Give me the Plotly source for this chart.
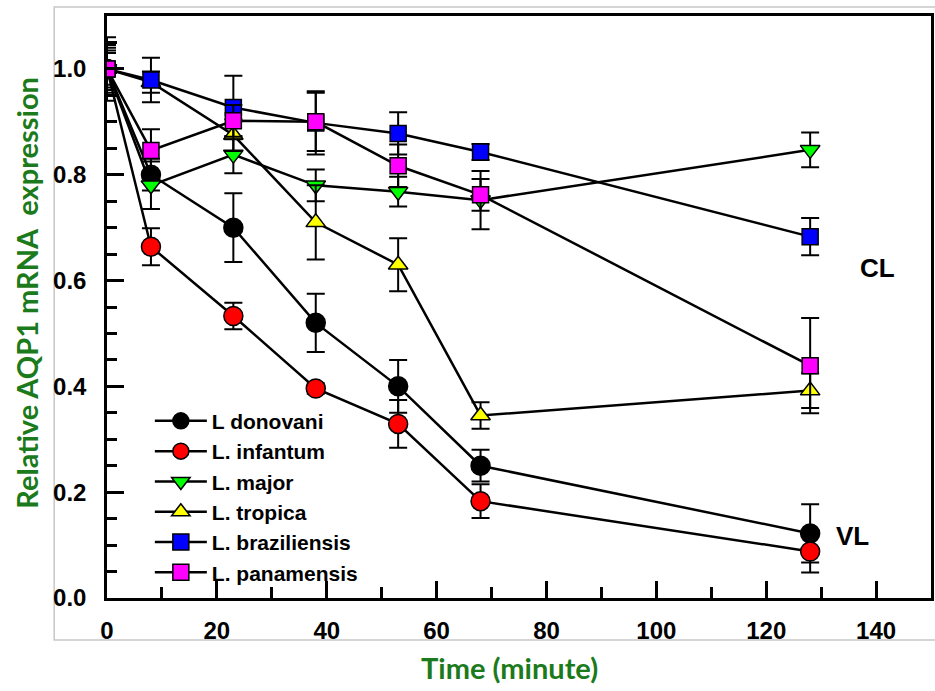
import plotly.graph_objects as go

time_min = [0, 8, 23, 38, 53, 68, 128]

names = ["L donovani", "L. infantum", "L. major", "L. tropica", "L. braziliensis", "L. panamensis"]

donovani = [1.0, 0.80, 0.70, 0.52, 0.40, 0.25, 0.122]
donovani_err = [0.05, 0.03, 0.065, 0.055, 0.05, 0.03, 0.055]
infantum = [1.0, 0.664, 0.533, 0.396, 0.329, 0.183, 0.088]
infantum_err = [0.04, 0.035, 0.025, 0.01, 0.045, 0.032, 0.04]
major = [1.0, 0.78, 0.838, 0.78, 0.768, 0.752, 0.847]
major_err = [0.06, 0.045, 0.035, 0.03, 0.028, 0.055, 0.033]
tropica = [1.0, 0.975, 0.875, 0.71, 0.63, 0.345, 0.392]
tropica_err = [0.03, 0.02, 0.03, 0.07, 0.05, 0.025, 0.033]
braziliensis = [1.0, 0.979, 0.927, 0.898, 0.878, 0.843, 0.683]
braziliensis_err = [0.045, 0.042, 0.06, 0.06, 0.04, 0.015, 0.035]
panamensis = [1.0, 0.846, 0.902, 0.900, 0.817, 0.762, 0.439]
panamensis_err = [0.035, 0.04, 0.03, 0.055, 0.04, 0.03, 0.09]

x_ticks = [0, 20, 40, 60, 80, 100, 120, 140]
y_ticks = [0.0, 0.2, 0.4, 0.6, 0.8, 1.0]

series = [
    (donovani, donovani_err, "circle", "#000000", 19),
    (infantum, infantum_err, "circle", "#ff0000", 19),
    (major, major_err, "triangle-down", "#00ff00", 17),
    (tropica, tropica_err, "triangle-up", "#ffff00", 17),
    (braziliensis, braziliensis_err, "square", "#0000ff", 16),
    (panamensis, panamensis_err, "square", "#ff00ff", 16),
]

fig = go.Figure()
for name, (vals, errs, sym, col, sz) in zip(names, series):
    fig.add_trace(go.Scatter(
        x=time_min, y=vals, name=name, mode="lines+markers",
        line=dict(color="black", width=2.5),
        marker=dict(symbol=sym, color=col, size=sz, line=dict(color="black", width=1.5)),
        error_y=dict(type="data", array=errs, visible=True, color="black", thickness=2, width=9),
    ))

green = "#1b7a1b"
ARIAL = "Liberation Sans, Arial"
axis_font = dict(family=ARIAL, size=24, color="black", weight="bold")

fig.update_layout(
    width=935, height=691,
    margin=dict(l=107, r=1, t=16, b=93),
    paper_bgcolor="white", plot_bgcolor="white",
    showlegend=True,
    legend=dict(x=0.052, y=0.339, xanchor="left", yanchor="top", itemwidth=52,
                font=dict(family=ARIAL, size=21, color="black", weight="bold"),
                bgcolor="rgba(0,0,0,0)", borderwidth=0, tracegroupgap=0),
    xaxis=dict(range=[0, 150], tickvals=x_ticks, ticks="inside", ticklen=17, tickwidth=2.5,
               tickcolor="black", showline=True, linecolor="black", linewidth=2.5, mirror=True,
               showgrid=False, zeroline=False, tickfont=axis_font, ticklabelstandoff=9,
               minor=dict(dtick=10, ticks="inside", ticklen=11, tickwidth=2.5, tickcolor="black", showgrid=False)),
    yaxis=dict(range=[0, 1.1], tickvals=y_ticks, tickformat=".1f", ticks="inside", ticklen=17, tickwidth=2.5,
               tickcolor="black", showline=True, linecolor="black", linewidth=2.5, mirror=True,
               showgrid=False, zeroline=False, tickfont=axis_font, ticklabelstandoff=13,
               minor=dict(dtick=0.05, ticks="inside", ticklen=10, tickwidth=2.5, tickcolor="black", showgrid=False)),
    shapes=[dict(type="rect", xref="paper", yref="paper", x0=-0.0641, x1=1.05, y0=-0.0722, y1=1.0155,
                 line=dict(color="#c8c8c8", width=1.5), fillcolor="rgba(0,0,0,0)", layer="below")],
    annotations=[
        dict(text="CL", x=140.3, y=0.624, xref="x", yref="y", showarrow=False,
             font=dict(family=ARIAL, size=26, color="black", weight="bold")),
        dict(text="VL", x=135.8, y=0.118, xref="x", yref="y", showarrow=False,
             font=dict(family=ARIAL, size=26, color="black", weight="bold")),
        dict(text="Relative AQP1 mRNA  expression", x=-0.098, y=0.525, xref="paper", yref="paper",
             xanchor="center", yanchor="middle",
             textangle=-90, showarrow=False, font=dict(family="Lato", size=29, color=green, weight="bold")),
        dict(text="Time (minute)", x=0.488, y=-0.119, xref="paper", yref="paper",
             xanchor="center", yanchor="middle",
             showarrow=False, font=dict(family="Lato", size=29, color=green, weight="bold")),
    ],
)

fig.write_html("out.html", config={"displayModeBar": False},
               post_script="document.body.style.margin='0';document.body.style.overflow='hidden';")
